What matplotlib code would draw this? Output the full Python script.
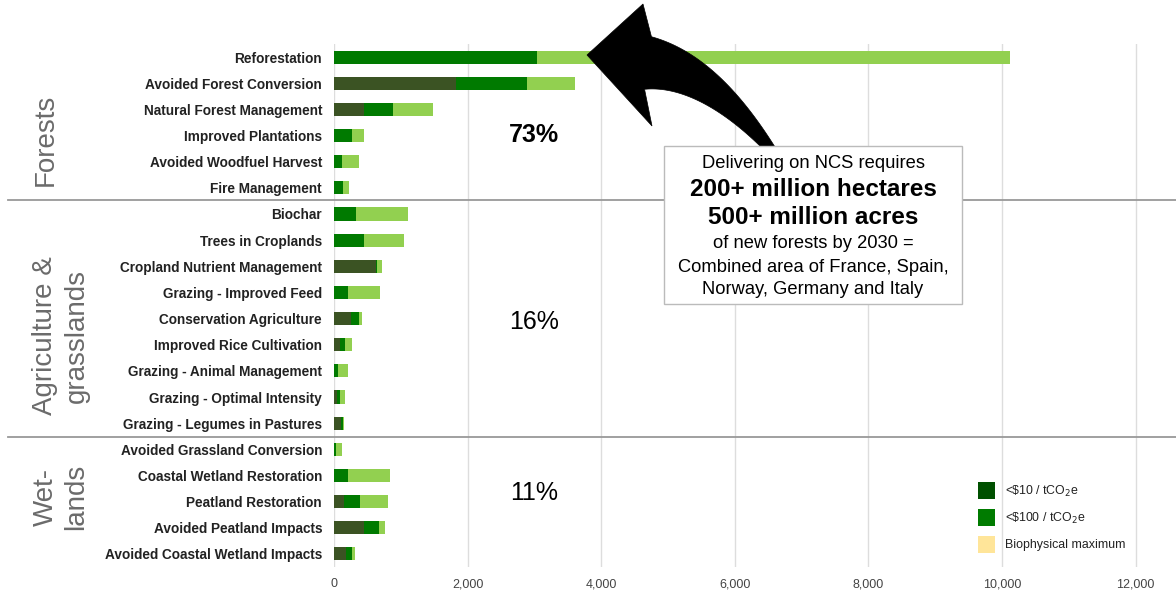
import matplotlib
matplotlib.use("Agg")
import numpy as np
import matplotlib.pyplot as plt
from matplotlib.patches import Rectangle, Polygon
from matplotlib.lines import Line2D

plt.rcParams['font.family'] = ['Liberation Sans', 'DejaVu Sans']

categories = [
    "Reforestation", "Avoided Forest Conversion", "Natural Forest Management",
    "Improved Plantations", "Avoided Woodfuel Harvest", "Fire Management",
    "Biochar", "Trees in Croplands", "Cropland Nutrient Management",
    "Grazing - Improved Feed", "Conservation Agriculture", "Improved Rice Cultivation",
    "Grazing - Animal Management", "Grazing - Optimal Intensity", "Grazing - Legumes in Pastures",
    "Avoided Grassland Conversion", "Coastal Wetland Restoration", "Peatland Restoration",
    "Avoided Peatland Impacts", "Avoided Coastal Wetland Impacts",
]
# cumulative values (TgCO2e/yr)
lt10 = [0, 1820, 445, 0, 0, 0,
        0, 0, 635, 0, 250, 90, 0, 50, 105,
        0, 0, 150, 455, 185]
lt100 = [3045, 2895, 885, 270, 115, 130,
         330, 445, 640, 210, 375, 165, 65, 85, 130,
         35, 210, 395, 680, 275]
biophys_max = [10120, 3610, 1475, 445, 370, 220,
               1110, 1050, 715, 690, 415, 270, 210, 160, 150,
               120, 845, 815, 760, 310]
xticks = [0, 2000, 4000, 6000, 8000, 10000, 12000]
xticklabels = ["0", "2,000", "4,000", "6,000", "8,000", "10,000", "12,000"]
groups = ["Forests", "Agriculture &\ngrasslands", "Wet-\nlands"]
shares = ["73%", "16%", "11%"]
legend_labels = [r"<\$10 / tCO$_2$e", r"<\$100 / tCO$_2$e", "Biophysical maximum"]

C_DARK = "#3b5323"
C_MID = "#007a00"
C_LIGHT = "#92d050"
LEG_COLORS = ["#005000", "#007b00", "#ffe599"]

W, H = 1176, 592
fig = plt.figure(figsize=(W / 100, H / 100), dpi=100)

def fx(x):
    return x / W

def fy(y):
    return 1 - y / H

ax = fig.add_axes([fx(334), fy(567), fx(1176) - fx(334), fy(44) - fy(567)])
ypos = list(range(len(categories)))
bh = 0.5
ax.barh(ypos, biophys_max, height=bh, color=C_LIGHT, zorder=3)
ax.barh(ypos, lt100, height=bh, color=C_MID, zorder=4)
ax.barh(ypos, lt10, height=bh, color=C_DARK, zorder=5)

ax.set_xlim(0, 12605)
ax.set_ylim(len(categories) - 0.5, -0.5)
ax.set_xticks(xticks)
ax.set_xticklabels(xticklabels, fontsize=9, color="#444444")
ax.set_yticks(ypos)
ax.set_yticklabels(categories, fontsize=9.8, fontweight="bold", color="#222222")
ax.tick_params(axis="both", length=0)
ax.tick_params(axis="y", pad=8.6)
ax.tick_params(axis="x", pad=8)
ax.grid(axis="x", color="#dddddd", linewidth=1, zorder=0)
for s in ax.spines.values():
    s.set_visible(False)

# separators
for yy in (200, 437):
    fig.add_artist(Line2D([fx(8), fx(1176)], [fy(yy), fy(yy)], color="#999999", lw=1.3))

# group labels
fig.text(fx(46), fy(140), groups[0], rotation=90, ha="center", va="center",
         fontsize=20, color="#6b6b6b")
fig.text(fx(61), fy(336), groups[1], rotation=90, ha="center", va="center",
         fontsize=20, color="#6b6b6b", linespacing=1.25)
fig.text(fx(61), fy(497), groups[2], rotation=90, ha="center", va="center",
         fontsize=20, color="#6b6b6b", linespacing=1.25)

# shares
fig.text(fx(534), fy(135), shares[0], ha="center", va="center", fontsize=18, fontweight="bold", color="black")
fig.text(fx(534), fy(322), shares[1], ha="center", va="center", fontsize=18, color="black")
fig.text(fx(534), fy(493), shares[2], ha="center", va="center", fontsize=18, color="black")

# big curved, tapered arrow (decorative callout), built in pixel space
A = np.array([771.0, 150.0])
Cc = np.array([709.0, 71.0])
P = np.array([648.0, 63.0])
t = np.linspace(0, 1, 60)[:, None]
centre = (1 - t) ** 2 * A + 2 * (1 - t) * t * Cc + t ** 2 * P
tang = 2 * (1 - t) * (Cc - A) + 2 * t * (P - Cc)
nrm = np.column_stack([tang[:, 1], -tang[:, 0]])
nrm /= np.linalg.norm(nrm, axis=1)[:, None]
width = (10 + 43 * t) / 2
upper = centre - nrm * width
lower = centre + nrm * width
head = np.array([[643.0, 4.0], [587.0, 55.0], [652.0, 126.0]])
pts = np.vstack([upper, head, lower[::-1]])
pts_fig = np.column_stack([pts[:, 0] / W, 1 - pts[:, 1] / H])
fig.add_artist(Polygon(pts_fig, closed=True, transform=fig.transFigure,
                       facecolor="black", edgecolor="black", lw=0.5, zorder=10))

# annotation box
box = Rectangle((fx(664), fy(304)), fx(962) - fx(664), fy(146) - fy(304), transform=fig.transFigure,
                facecolor="white", edgecolor="#bbbbbb", lw=1, zorder=11)
fig.add_artist(box)
lines = [
    ("Delivering on NCS requires", 13.2, "normal", 163),
    ("200+ million hectares", 17.5, "bold", 189),
    ("500+ million acres", 17.5, "bold", 217),
    ("of new forests by 2030 =", 13.2, "normal", 244),
    ("Combined area of France, Spain,", 13.2, "normal", 267),
    ("Norway, Germany and Italy", 13.2, "normal", 290),
]
for txt, fs, fw, yy in lines:
    fig.text(fx(813), fy(yy), txt, ha="center", va="center", fontsize=fs, fontweight=fw,
             color="black", zorder=12)

# legend
for i, (lab, col) in enumerate(zip(legend_labels, LEG_COLORS)):
    yc = 491 + i * 27
    fig.add_artist(Rectangle((fx(978), fy(yc + 8)), fx(17), 17 / H, transform=fig.transFigure,
                             facecolor=col, edgecolor="none", zorder=6))
    fig.text(fx(1005), fy(yc), lab, ha="left", va="center", fontsize=8.9, color="#222222")

fig.savefig("out.png", dpi=100)
